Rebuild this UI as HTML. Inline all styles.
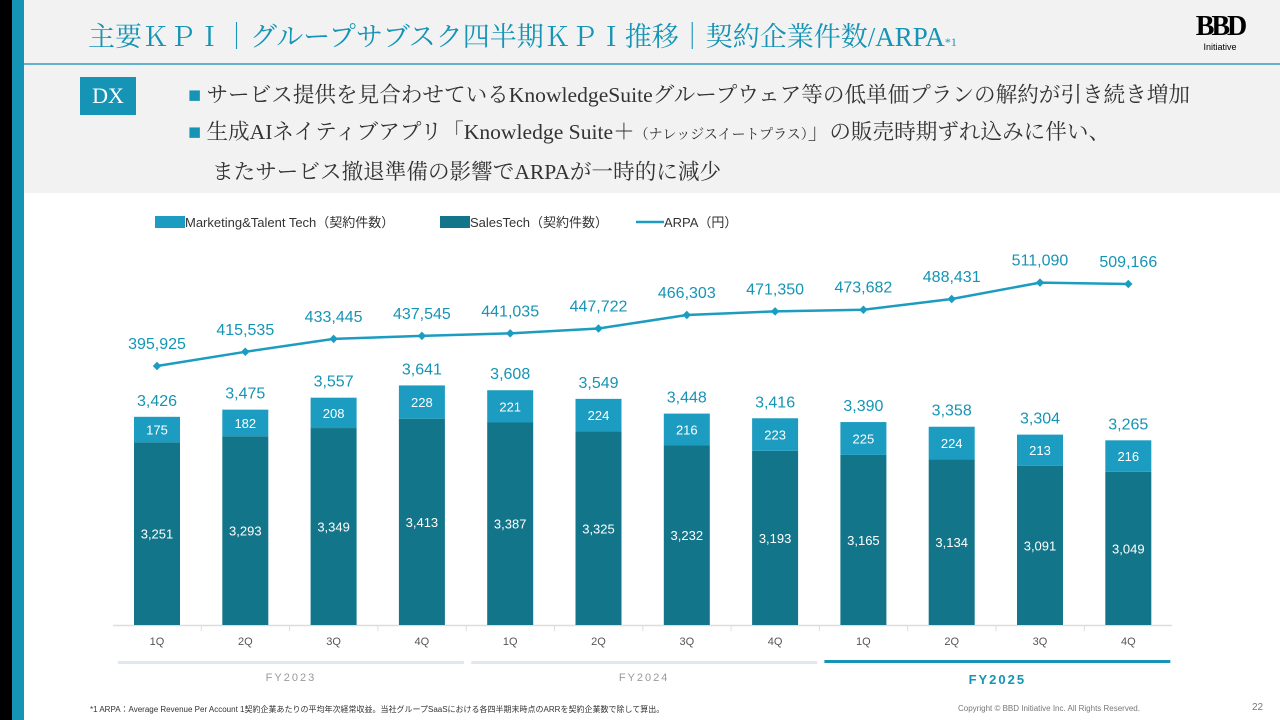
<!DOCTYPE html>
<html><head><meta charset="utf-8"><style>
body{margin:0;width:1280px;height:720px;overflow:hidden;background:#fff;font-family:"Liberation Sans","Noto Sans CJK JP",sans-serif;position:relative}
.abs{position:absolute}
.serif{font-family:"Liberation Serif","Noto Serif CJK SC",serif}
</style></head><body>
<div class="abs" style="left:0;top:0;width:1280px;height:193px;background:#f2f2f2"></div>
<div class="abs" style="left:0;top:0;width:12px;height:720px;background:#000"></div>
<div class="abs" style="left:12px;top:0;width:12px;height:720px;background:#1594b5"></div>
<div class="abs serif" style="left:88px;top:15px;font-size:27px;color:#1594b5;white-space:nowrap">主要ＫＰＩ｜グループサブスク四半期ＫＰＩ推移｜契約企業件数/ARPA<span style="font-size:12px">*1</span></div>
<div class="abs" style="left:24px;top:63px;width:1256px;height:2px;background:#5fb3cb"></div>
<div class="abs" style="left:1190px;top:12px;width:60px;text-align:center"><div style="font-size:28px;font-weight:bold;font-family:'Liberation Serif',serif;letter-spacing:-3px;line-height:30px">BBD</div><div style="font-size:9px">Initiative</div></div>
<div class="abs serif" style="left:80px;top:77px;width:56px;height:38px;background:#1594b5;color:#fff;font-size:22px;text-align:center;line-height:38px">DX</div>
<div class="abs serif" style="left:188px;top:77px;font-size:21.6px;color:#333;line-height:37px;white-space:nowrap">
<div><span style="color:#1594b5">■</span> サービス提供を見合わせているKnowledgeSuiteグループウェア等の低単価プランの解約が引き続き増加</div>
<div><span style="color:#1594b5">■</span> 生成AIネイティブアプリ「Knowledge Suite＋<span style="font-size:14px">（ナレッジスイートプラス）</span>」の販売時期ずれ込みに伴い、</div>
<div style="padding-left:24px">またサービス撤退準備の影響でARPAが一時的に減少</div></div>
<svg class="abs" style="left:0;top:0" width="1280" height="720" id="chart"></svg>
<div class="abs" style="left:90px;top:704px;font-size:8px;color:#333">*1 ARPA：Average Revenue Per Account 1契約企業あたりの平均年次経常収益。当社グループSaaSにおける各四半期末時点のARRを契約企業数で除して算出。</div>
<div class="abs" style="left:958px;top:704px;font-size:8px;color:#777">Copyright © BBD Initiative Inc. All Rights Reserved.</div>
<div class="abs" style="left:1252px;top:702px;font-size:10px;color:#777">22</div>
<script>
const quarters=["1Q","2Q","3Q","4Q","1Q","2Q","3Q","4Q","1Q","2Q","3Q","4Q"];
const salesTech=[3251,3293,3349,3413,3387,3325,3232,3193,3165,3134,3091,3049];
const mtTech=[175,182,208,228,221,224,216,223,225,224,213,216];
const arpa=[395925,415535,433445,437545,441035,447722,466303,471350,473682,488431,511090,509166];
const years=["FY2023","FY2024","FY2025"];
const svg=document.getElementById('chart');const NS='http://www.w3.org/2000/svg';
function mk(t,a,txt){const e=document.createElementNS(NS,t);for(const k in a)e.setAttribute(k,a[k]);if(txt!==undefined)e.textContent=txt;svg.appendChild(e);return e;}
const X=i=>157+i*88.3;
const Y=v=>625-(v-2000)*0.146;
const YA=v=>366-(v-395925)*0.000724;
const fmt=v=>v.toLocaleString('en-US');
const bw=46;
let l=mk('rect',{x:155,y:216,width:30,height:12,fill:'#1b9cc0'});
l=mk('text',{x:185,y:227,'font-size':13,fill:'#333'},'Marketing&Talent Tech（契約件数）');
l=mk('rect',{x:440,y:216,width:30,height:12,fill:'#137589'});
l=mk('text',{x:470,y:227,'font-size':13,fill:'#333'},'SalesTech（契約件数）');
l=mk('line',{x1:636,y1:222,x2:664,y2:222,stroke:'#1b9cc0','stroke-width':2.5});
l=mk('text',{x:664,y:227,'font-size':13,fill:'#333'},'ARPA（円）');
l=mk('line',{x1:113,y1:625.5,x2:1172,y2:625.5,stroke:'#ddd','stroke-width':1.5});
quarters.forEach((q,i)=>{
 const x=X(i),tot=salesTech[i]+mtTech[i];
 let e=mk('rect',{x:x-bw/2,y:Y(salesTech[i]),width:bw,height:625-Y(salesTech[i]),fill:'#137589'});
 e=mk('rect',{x:x-bw/2,y:Y(tot),width:bw,height:Y(salesTech[i])-Y(tot),fill:'#1b9cc0'});
 e=mk('text',{x:x,y:(Y(salesTech[i])+625)/2+5,'font-size':13,fill:'#fff','text-anchor':'middle'},fmt(salesTech[i]));
 e=mk('text',{x:x,y:(Y(salesTech[i])+Y(tot))/2+5,'font-size':13,fill:'#fff','text-anchor':'middle'},fmt(mtTech[i]));
 e=mk('text',{x:x,y:Y(tot)-11,'font-size':16,fill:'#1594b5','text-anchor':'middle'},fmt(tot));
 e=mk('text',{x:x,y:645,'font-size':11,fill:'#555','text-anchor':'middle'},q);
 if(i>0){e=mk('line',{x1:x-44,y1:625,x2:x-44,y2:631,stroke:'#ddd'});}
});
let pts=arpa.map((v,i)=>X(i)+','+YA(v)).join(' ');
l=mk('polyline',{points:pts,fill:'none',stroke:'#1b9cc0','stroke-width':2.5});
arpa.forEach((v,i)=>{
 let e=mk('rect',{x:X(i)-3,y:YA(v)-3,width:6,height:6,fill:'#1b9cc0',transform:`rotate(45 ${X(i)} ${YA(v)})`});
 e=mk('text',{x:X(i),y:YA(v)-17,'font-size':16,fill:'#1594b5','text-anchor':'middle'},fmt(v));
});
years.forEach((y,k)=>{
 const x1=X(k*4)-39,x2=X(k*4+3)+42,cur=k===2;
 let e=mk('rect',{x:x1,y:cur?660:661,width:x2-x1,height:3,fill:cur?'#1594b5':'#dfe8f0'});
 e=mk('text',{x:(x1+x2)/2,y:cur?684:681,'font-size':cur?13:11,'font-weight':cur?'bold':'normal',fill:cur?'#1594b5':'#999','text-anchor':'middle','letter-spacing':2},y);
});
</script>
</body></html>
